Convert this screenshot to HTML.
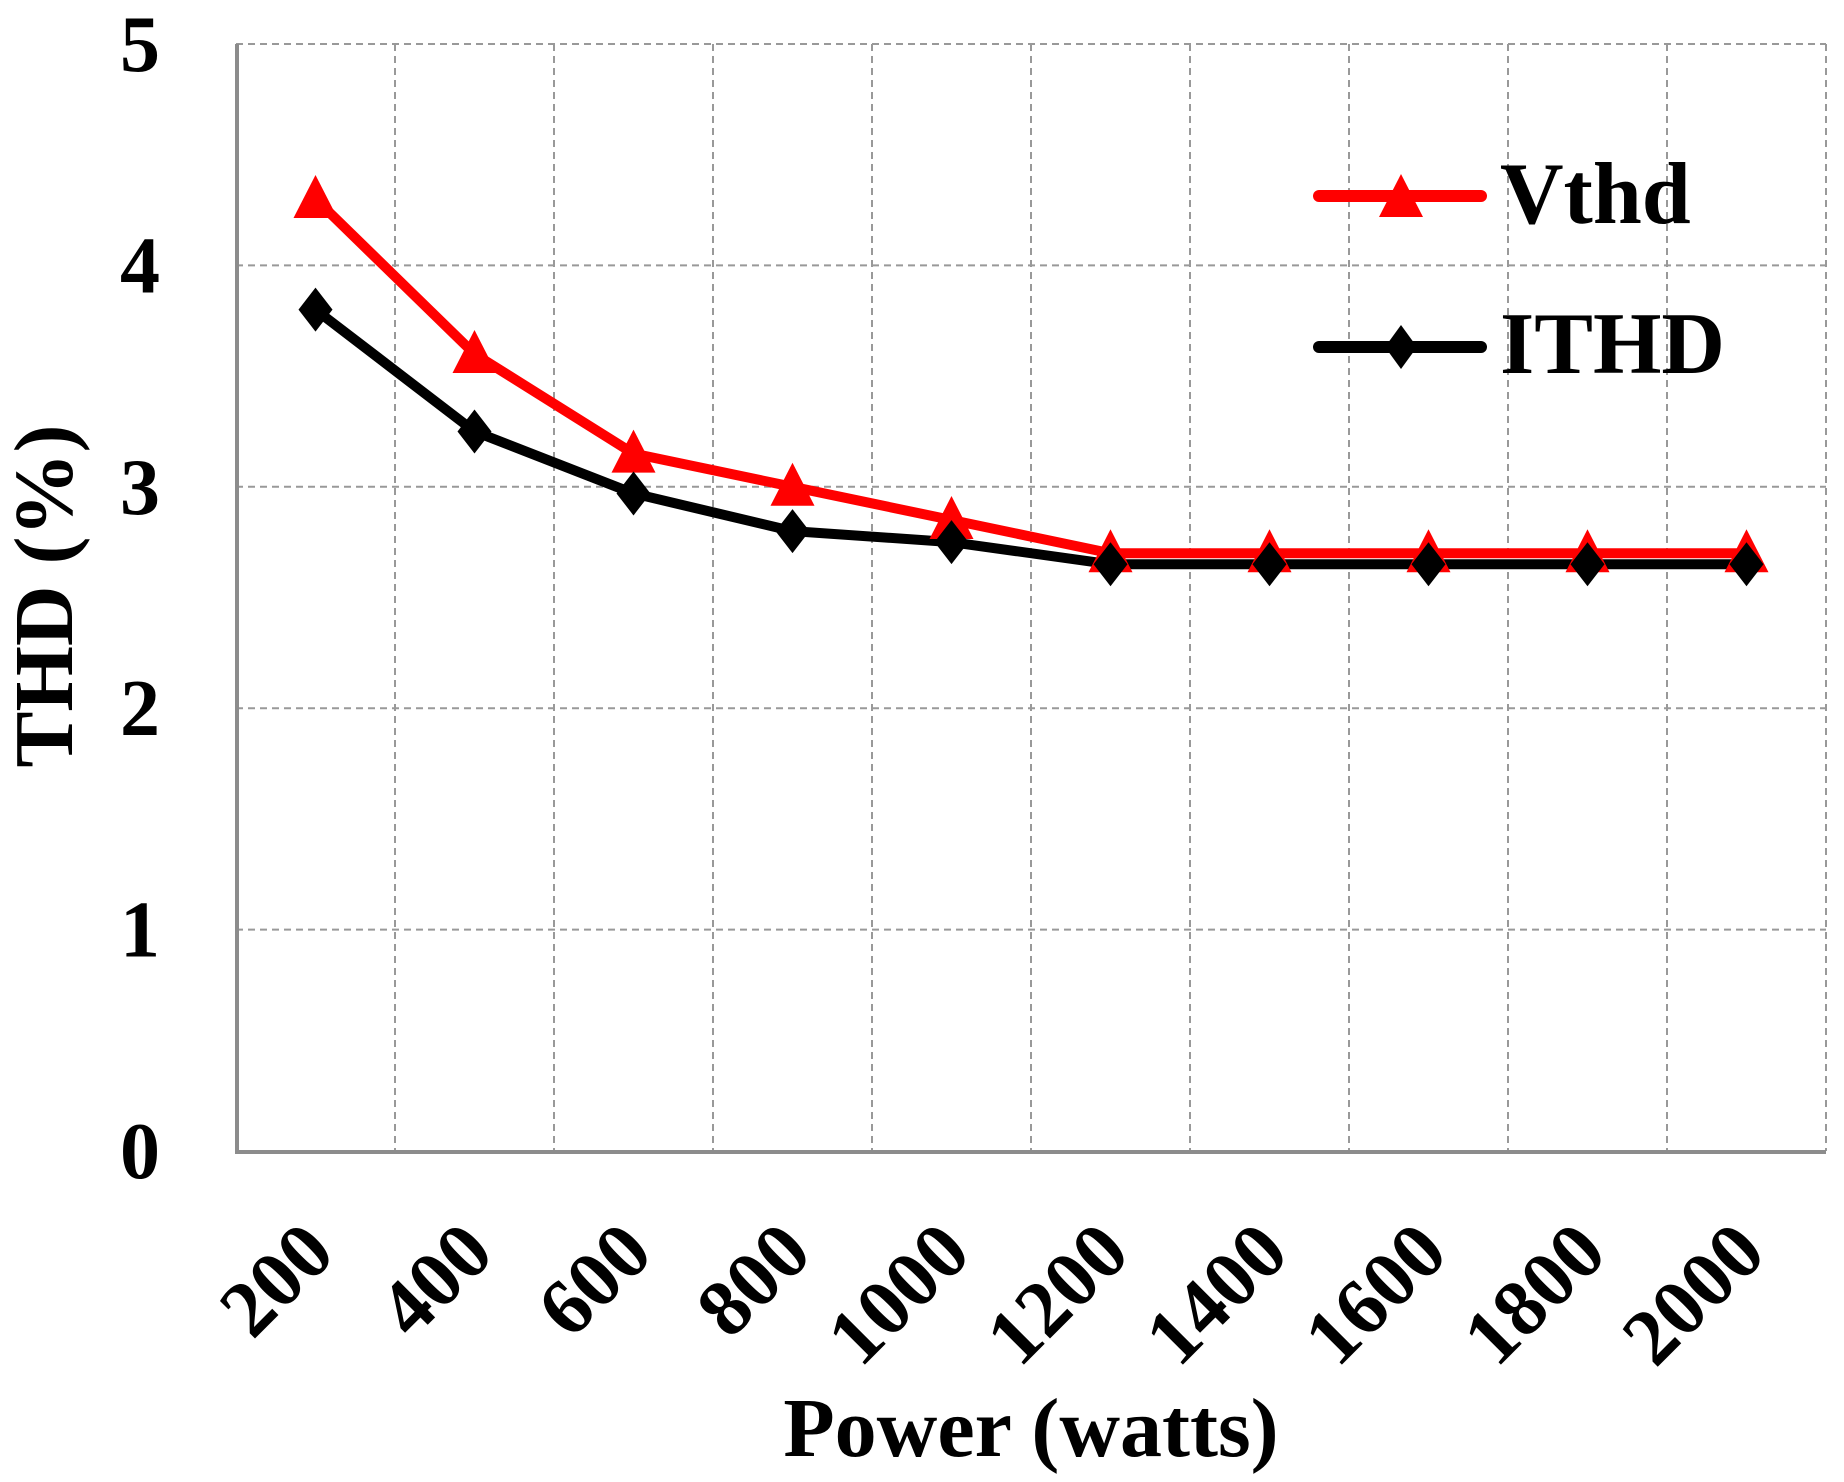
<!DOCTYPE html>
<html><head><meta charset="utf-8"><style>
html,body{margin:0;padding:0;background:#fff;}
svg{display:block;}
text{font-family:"Liberation Serif",serif;font-weight:bold;fill:#000;}
</style></head><body>
<svg id="chart" width="1844" height="1482" viewBox="0 0 1844 1482" xmlns="http://www.w3.org/2000/svg">
<g id="grid"></g>
<g id="axes"></g>
<g id="series"></g>
<g id="labels"></g>
<text transform="translate(72,596) rotate(-90)" text-anchor="middle" font-size="84">THD (%)</text>
<text x="1031" y="1456" text-anchor="middle" font-size="84">Power (watts)</text>
<g>
  <g>
    <line x1="1319" y1="196" x2="1481" y2="196" stroke="#ff0000" stroke-width="12" stroke-linecap="round"/>
    <polygon points="1401,174 1423,217 1379,217" fill="#ff0000"/>
    <text x="1500" y="223" font-size="88">Vthd</text>
  </g>
  <g>
    <line x1="1319" y1="347" x2="1481" y2="347" stroke="#000" stroke-width="12" stroke-linecap="round"/>
    <polygon points="1401,325 1417,347 1401,369 1385,347" fill="#000"/>
    <text x="1500" y="373" font-size="88">ITHD</text>
  </g>
</g>
</svg>
<script>
const categories = ["200","400","600","800","1000","1200","1400","1600","1800","2000"];
const vthdValues = [4.3, 3.6, 3.15, 3.0, 2.85, 2.7, 2.7, 2.7, 2.7, 2.7];
const ithdValues = [3.8, 3.25, 2.97, 2.8, 2.75, 2.65, 2.65, 2.65, 2.65, 2.65];
const yTicks = [0, 1, 2, 3, 4, 5];

const NS = "http://www.w3.org/2000/svg";
const L = 236, R = 1826, T = 44, B = 1151, YMAX = 5;
const bw = (R - L) / categories.length;
function xScale(i){ return L + bw * (i + 0.5); }
function yScale(v){ return B - (v / YMAX) * (B - T); }
function mk(tag, attrs, parent){
  const e = document.createElementNS(NS, tag);
  for (const k in attrs) e.setAttribute(k, attrs[k]);
  parent.appendChild(e); return e;
}
const grid = document.getElementById('grid');
const axes = document.getElementById('axes');
const series = document.getElementById('series');
const labels = document.getElementById('labels');

yTicks.forEach(t => {
  if (t === 0) return;
  const y = yScale(t);
  const g = mk('line', {x1:L, y1:y, x2:R, y2:y, stroke:'#999', 'stroke-width':2, 'stroke-dasharray':'7,5'}, grid);
  
  
});
for (let i = 1; i <= categories.length; i++) {
  const x = L + bw * i;
  const g = mk('line', {x1:x, y1:T, x2:x, y2:B, stroke:'#999', 'stroke-width':2, 'stroke-dasharray':'7,5'}, grid);
  
  
}
const ya = mk('line', {x1:L+1, y1:T, x2:L+1, y2:B+2, stroke:'#8c8c8c', 'stroke-width':4}, axes);


const xa = mk('line', {x1:L-1, y1:B+1, x2:R, y2:B+1, stroke:'#8c8c8c', 'stroke-width':4}, axes);



yTicks.forEach(t => {
  const tx = mk('text', {x:160, y:yScale(t) + 27, 'text-anchor':'end', 'font-size':80}, labels);
  tx.textContent = String(t);
  
  
});
categories.forEach((c, i) => {
  const x = xScale(i) + 22, y = B + 105;
  const tx = mk('text', {transform:`translate(${x},${y}) rotate(-45)`, 'text-anchor':'end', 'font-size':80}, labels);
  tx.textContent = c;
  
  
});

function drawLine(vals, color, name){
  const pts = vals.map((v, i) => xScale(i) + ',' + yScale(v)).join(' ');
  const pl = mk('polyline', {points:pts, fill:'none', stroke:color, 'stroke-width':10, 'stroke-linejoin':'round'}, series);
  
  
}
drawLine(vthdValues, '#ff0000', 'vthd');
drawLine(ithdValues, '#000000', 'ithd');
vthdValues.forEach((v, i) => {
  const x = xScale(i), y = yScale(v);
  const p = mk('polygon', {points:`${x},${y-24} ${x+22},${y+19} ${x-22},${y+19}`, fill:'#ff0000'}, series);
  
  
});
ithdValues.forEach((v, i) => {
  const x = xScale(i), y = yScale(v);
  const p = mk('polygon', {points:`${x},${y-22} ${x+17},${y} ${x},${y+22} ${x-17},${y}`, fill:'#000'}, series);
  
  
});
</script>
</body></html>
